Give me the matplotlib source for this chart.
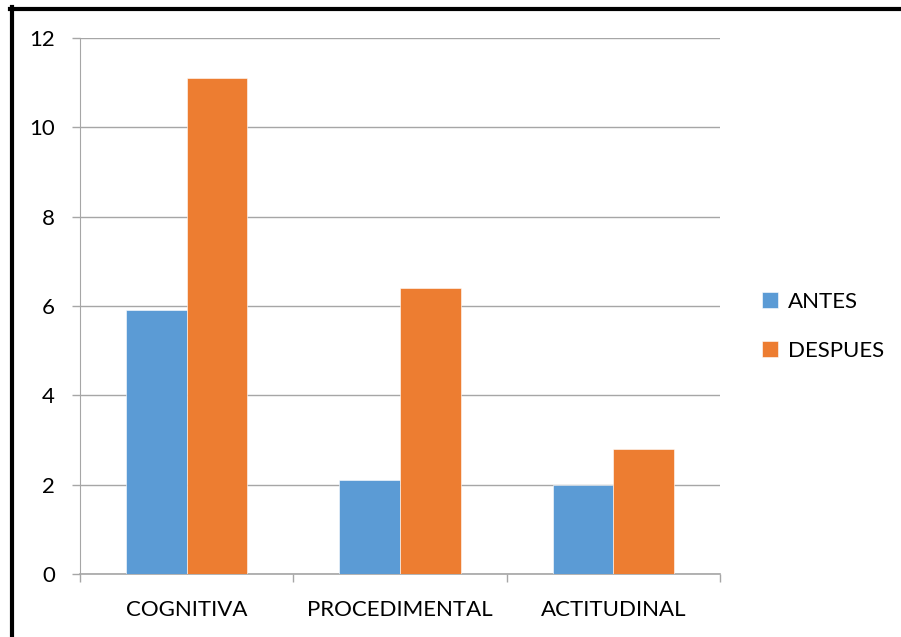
import numpy as np
import matplotlib.pyplot as plt
from matplotlib.lines import Line2D

plt.rcParams['font.family'] = ['Lato', 'DejaVu Sans']

categories = ["COGNITIVA", "PROCEDIMENTAL", "ACTITUDINAL"]
antes = [5.9, 2.1, 2.0]
despues = [11.1, 6.4, 2.8]
yticks = [0, 2, 4, 6, 8, 10, 12]

blue = "#5B9BD5"
orange = "#ED7D31"
grid = "#A6A6A6"

W, H = 901, 637
fig = plt.figure(figsize=(W / 100, H / 100), dpi=100)
ax = fig.add_axes([80 / W, 1 - 574 / H, 640 / W, 536 / H])

x = np.arange(len(categories))
width = 0.284
ax.bar(x - width / 2, antes, width, color=blue, edgecolor="white", linewidth=0.4, label="ANTES", zorder=3)
ax.bar(x + width / 2, despues, width, color=orange, edgecolor="white", linewidth=0.4, label="DESPUES", zorder=3)

ax.set_xlim(-0.5, len(categories) - 0.5)
ax.set_ylim(0, 12)
ax.set_yticks(yticks)
ax.yaxis.grid(True, color=grid, linewidth=1.0, zorder=0)
ax.set_axisbelow(True)

for side in ["top", "right"]:
    ax.spines[side].set_visible(False)
ax.spines["left"].set_color(grid)
ax.spines["bottom"].set_color(grid)
ax.spines["bottom"].set_linewidth(1.2)

ax.set_xticks(x)
ax.set_xticklabels(categories, fontsize=16)
ax.tick_params(axis="x", length=0, pad=19)
# category separators on the bottom axis
ax.set_xticks(np.arange(len(categories) + 1) - 0.5, minor=True)
ax.tick_params(axis="x", which="minor", length=6, color=grid, width=1)
ax.tick_params(axis="y", length=6, color=grid, width=1, labelsize=16, pad=12)

ax.legend(loc="center left", bbox_to_anchor=(1.035, 0.462), frameon=False, fontsize=16,
          handlelength=0.7, handleheight=0.7, handletextpad=0.45, labelspacing=1.3)

# frame around the chart (top and left edges)
fig.add_artist(Line2D([10 / W, 1], [1 - 8.5 / H, 1 - 8.5 / H], color="black", linewidth=3, transform=fig.transFigure))
fig.add_artist(Line2D([12 / W, 12 / W], [0, 1 - 7 / H], color="black", linewidth=3, transform=fig.transFigure))

fig.savefig("out.png", dpi=100)
